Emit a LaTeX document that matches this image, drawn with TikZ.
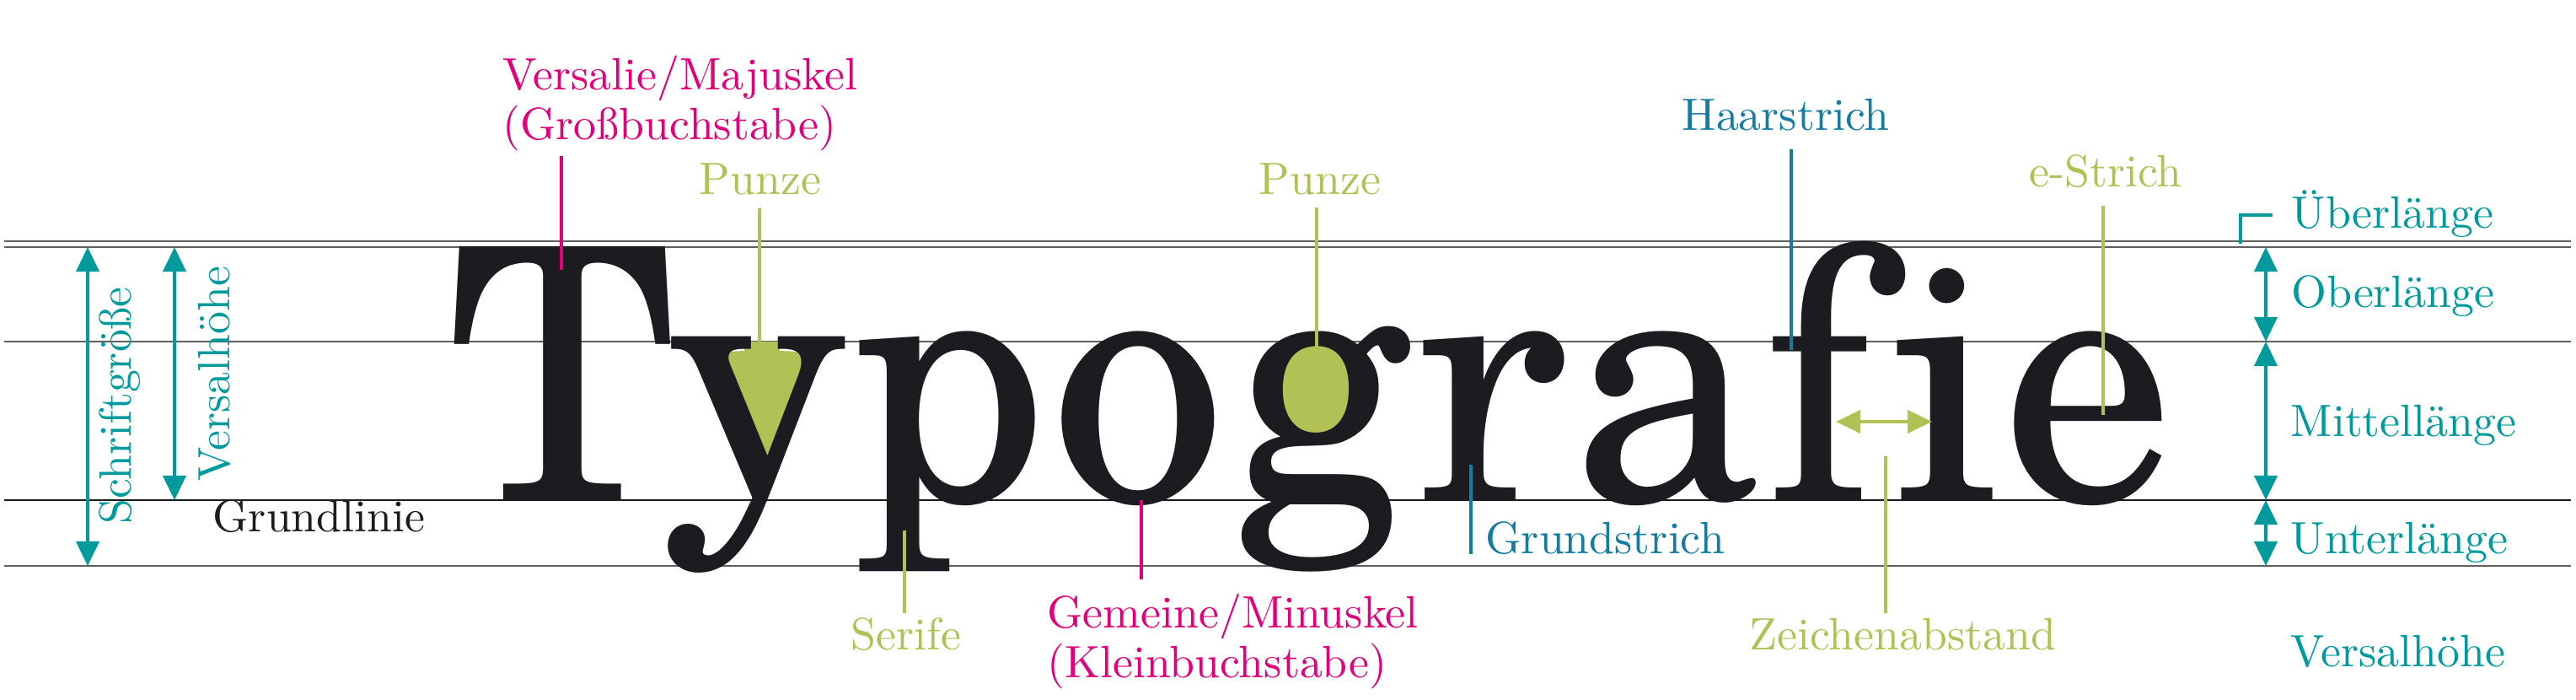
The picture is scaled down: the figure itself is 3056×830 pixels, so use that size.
\documentclass[tikz,border=0pt]{standalone}
\usepackage{fontspec}
\usepackage{xcolor}
\usepackage{tikz}
\usetikzlibrary{arrows.meta, positioning, calc}
\definecolor{Teal}{RGB}{0,154,157}
\definecolor{Magenta}{RGB}{226,0,122}
\definecolor{Leaf}{RGB}{178,193,86}
\definecolor{Steel}{RGB}{20,124,163}
\definecolor{Ink}{RGB}{28,27,31}
\definecolor{Rule}{RGB}{95,95,95}
\IfFontExistsTF{TeX Gyre Schola}
  {\newfontfamily\bigfam{TeX Gyre Schola}}
  {\newfontfamily\bigfam{DejaVu Serif}}
\DeclareFontFamily{TU}{lmten}{}
\DeclareFontShape{TU}{lmten}{m}{n}{<-> "[lmroman10-regular]:+tlig;"}{}
\newcommand{\bigface}{\bigfam\fontsize{118.6pt}{120pt}\selectfont}
\newcommand{\lblface}{\fontfamily{lmten}\fontsize{15.3pt}{16.5pt}\selectfont}

% letters of the big word: measure once, then put ink edges at given x values
\newdimen\glW \newdimen\glL \newdimen\glR \newdimen\glI
\newsavebox{\glbox}
\newcommand{\defglyph}[4]{%
  \global\glL=0pt \global\glR=0pt
  \sbox{\glbox}{\bigface\char#2\relax
    \global\glL=\XeTeXglyphbounds 1 \XeTeXcharglyph #2\relax
    \global\glR=\XeTeXglyphbounds 3 \XeTeXcharglyph #2\relax}%
  \glW=\wd\glbox
  \ifdim\glR>0.5\glW \glI=\dimexpr\glR-\glL\relax
  \else \glI=\dimexpr\glW-\glL-\glR\relax\fi
  \ifdim\glI<1pt
    \def\glS{1}\glL=0pt
  \else
    \pgfmathsetmacro{\glS}{(#4-#3)*0.284528/\glI}%
  \fi
  \expandafter\xdef\csname glS#1\endcsname{\glS}%
  \expandafter\xdef\csname glL#1\endcsname{\the\glL}%
}
\newcommand{\putglyph}[3]{%
  \node[inner sep=0pt, anchor=base west, xscale=\csname glS#1\endcsname, text=Ink] (#1) at (#3,593)
    {\bigface\hspace*{-\csname glL#1\endcsname}\char#2};%
}

\begin{document}
\defglyph{gT}{`T}{539}{795}
\defglyph{gy}{`y}{792}{1002}
\defglyph{gp}{`p}{1019}{1227}
\defglyph{go}{`o}{1259}{1440}
\defglyph{gg}{`g}{1473}{1673}
\defglyph{gr}{`r}{1688}{1855}
\defglyph{ga}{`a}{1882}{2083}
\defglyph{gf}{`f}{2103}{2260}
\defglyph{gi}{`i}{2250}{2363}
\defglyph{ge}{`e}{2389}{2564}
\begin{tikzpicture}[x=0.01cm, y=-0.01cm,
  lb/.style={inner sep=0pt, anchor=base west, font=\lblface, align=left},
  gl/.style={line width=0.45pt, color=Rule},
  ld/.style={line width=1pt},
  dm/.style={{Triangle[width=0.27cm,length=0.29cm]}-{Triangle[width=0.27cm,length=0.29cm]},
             line width=1.1pt, color=Teal}
]
  \useasboundingbox (0,0) rectangle (3056,830);

  % ---- Hilfslinien ----
  \draw[gl] (5,286) -- (3050,286);
  \draw[gl] (5,293) -- (3050,293);
  \draw[gl] (5,405) -- (3050,405);
  \draw[gl, color=Ink] (5,593) -- (3050,593);
  \draw[gl] (5,671) -- (3050,671);

  % ---- Punzen (unter dem Wort) ----
  \fill[Leaf] (883,405) -- (925,405) -- (925,416) -- (950,417)
    .. controls (962,420) and (964,431) .. (959,443) -- (908,554) -- (851,443)
    .. controls (846,431) and (849,419) .. (862,417) -- (883,416) -- cycle;
  \fill[Leaf] (1560,467) ellipse [x radius=46, y radius=59];

  % ---- Wort ----
  \putglyph{gT}{`T}{539}
  \putglyph{gy}{`y}{792}
  \putglyph{gp}{`p}{1019}
  \putglyph{go}{`o}{1259}
  \putglyph{gg}{`g}{1473}
  \putglyph{gr}{`r}{1688}
  \putglyph{ga}{`a}{1882}
  \putglyph{gf}{`f}{2103}
  \putglyph{gi}{`i}{2250}
  \putglyph{ge}{`e}{2389}

  % ---- Masse links ----
  \coordinate (sgT) at (104,293);
  \coordinate (sgB) at (104,671);
  \coordinate (vhT) at (207,293);
  \coordinate (vhB) at (207,593);
  \draw[dm] (sgT) -- (sgB);
  \draw[dm] (vhT) -- (vhB);
  \node[lb, anchor=base, rotate=90, text=Teal] (schrift) at (156,481) {Schriftgröße};
  \node[lb, anchor=base, rotate=90, text=Teal] (versal) at (272,443) {Versalhöhe};
  \node[lb, text=Ink] (grund) at (252,630) {Grundlinie};

  % ---- Beschriftungen oben ----
  \node[lb, text=Magenta] (majus) at (596,165) {Versalie/Majuskel\\(Großbuchstabe)};
  \node[lb, text=Leaf] (punzeA) at (829,230) {Punze};
  \node[lb, text=Leaf] (punzeB) at (1493,230) {Punze};
  \node[lb, text=Steel] (haar) at (1995,154) {Haarstrich};
  \node[lb, text=Leaf] (estrich) at (2407,221) {e-Strich};

  \coordinate (majA) at (666,185);  \coordinate (majB) at (666,320);
  \coordinate (puAa) at (901,247);  \coordinate (puAb) at (901,406);
  \coordinate (puBa) at (1562,246); \coordinate (puBb) at (1562,412);
  \coordinate (haA) at (2125,177);  \coordinate (haB) at (2125,415);
  \coordinate (esA) at (2495,244);  \coordinate (esB) at (2495,492);
  \draw[ld, Magenta] (majA) -- (majB);
  \draw[ld, Leaf] (puAa) -- (puAb);
  \draw[ld, Leaf] (puBa) -- (puBb);
  \draw[ld, Steel] (haA) -- (haB);
  \draw[ld, Leaf] (esA) -- (esB);

  % ---- Beschriftungen unten ----
  \node[lb, text=Leaf] (serife) at (1009,770) {Serife};
  \node[lb, text=Magenta] (minus) at (1242,803) {Gemeine/Minuskel\\(Kleinbuchstabe)};
  \node[lb, text=Steel] (gstrich) at (1762,656) {Grundstrich};
  \node[lb, text=Leaf] (abstand) at (2075,770) {Zeichenabstand};

  \coordinate (seA) at (1073,629);  \coordinate (seB) at (1073,727);
  \coordinate (miA) at (1354,593);  \coordinate (miB) at (1354,687);
  \coordinate (gsA) at (1745,551);  \coordinate (gsB) at (1745,657);
  \coordinate (zaL) at (2178,500);  \coordinate (zaR) at (2292,500);
  \coordinate (zaA) at (2237,541);  \coordinate (zaB) at (2237,727);
  \draw[ld, Leaf] (seA) -- (seB);
  \draw[ld, Magenta] (miA) -- (miB);
  \draw[ld, Steel] (gsA) -- (gsB);
  \draw[dm, Leaf] (zaL) -- (zaR);
  \draw[ld, Leaf] (zaA) -- (zaB);

  % ---- Masse rechts ----
  \coordinate (ueA) at (2658,289); \coordinate (ueB) at (2658,255); \coordinate (ueC) at (2696,255);
  \draw[ld, Teal] (ueA) -- (ueB) -- (ueC);
  \coordinate (rTop) at (2688,293);
  \coordinate (rX) at (2688,405);
  \coordinate (rBase) at (2688,593);
  \coordinate (rDesc) at (2688,671);
  \draw[dm] (rTop) -- (rX);
  \draw[dm] (rX) -- (rBase);
  \draw[dm] (rBase) -- (rDesc);
  \node[lb, text=Teal] (ueber) at (2718,270) {Überlänge};
  \node[lb, text=Teal] (ober) at (2718,364) {Oberlänge};
  \node[lb, text=Teal] (mittel) at (2717,517) {Mittellänge};
  \node[lb, text=Teal] (unter) at (2717,656) {Unterlänge};
  \node[lb, text=Teal] (versalR) at (2717,790) {Versalhöhe};
\end{tikzpicture}
\end{document}
